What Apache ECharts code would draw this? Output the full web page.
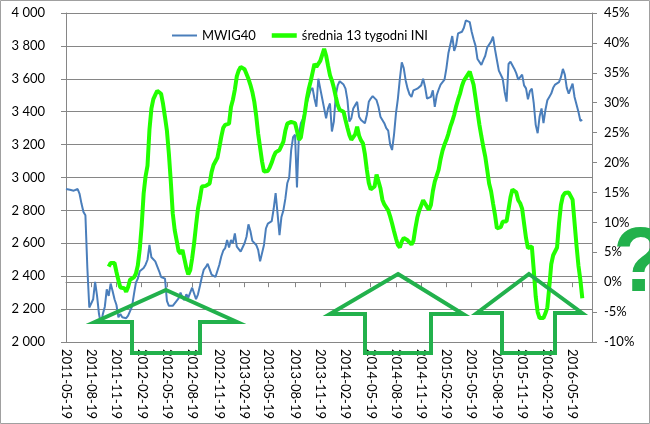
<!DOCTYPE html>
<html>
<head>
<meta charset="utf-8">
<script src="https://cdn.jsdelivr.net/npm/echarts@6/dist/echarts.min.js"></script>
<style>
  html, body { margin: 0; padding: 0; background: #fff; }
  #chart { width: 650px; height: 424px; }
</style>
</head>
<body>
<div id="chart"></div>
<script>
// weekly quotes, first week = startDate
const startDate = '2011-05-19'
const weekCount = 272

const tickLabels = [
  '2011-05-19', '2011-08-19', '2011-11-19', '2012-02-19', '2012-05-19',
  '2012-08-19', '2012-11-19', '2013-02-19', '2013-05-19', '2013-08-19',
  '2013-11-19', '2014-02-19', '2014-05-19', '2014-08-19', '2014-11-19',
  '2015-02-19', '2015-05-19', '2015-08-19', '2015-11-19', '2016-02-19',
  '2016-05-19',
]

const mwig40 = [
  2930, 2935, 2925, 2935, 2920, 2915, 2930, 2900, 2840, 2790,
  2770, 2450, 2210, 2215, 2260, 2365, 2280, 2170, 2110, 2170,
  2215, 2320, 2280, 2355, 2310, 2260, 2225, 2150, 2170, 2150,
  2160, 2145, 2160, 2150, 2215, 2290, 2360, 2385, 2430, 2440,
  2450, 2470, 2500, 2590, 2515, 2505, 2490, 2460, 2430, 2395,
  2390, 2385, 2250, 2220, 2215, 2220, 2230, 2250, 2265, 2300,
  2270, 2255, 2290, 2270, 2300, 2330, 2295, 2260, 2290, 2340,
  2395, 2440, 2455, 2475, 2485, 2410, 2400, 2395, 2390, 2470,
  2520, 2555, 2570, 2620, 2575, 2620, 2600, 2660, 2580, 2565,
  2550, 2540, 2600, 2640, 2715, 2675, 2615, 2620, 2590, 2560,
  2490, 2495, 2590, 2690, 2720, 2725, 2735, 2810, 2905, 2780,
  2650, 2760, 2800, 2870, 2965, 3000, 3165, 3245, 3260, 2940,
  3260, 3330, 3355, 3395, 3450, 3490, 3530, 3545, 3480, 3430,
  3600, 3540, 3480, 3420, 3360, 3420, 3450, 3280, 3340, 3500,
  3560, 3585, 3590, 3565, 3540, 3470, 3340, 3360, 3420, 3440,
  3460, 3370, 3350, 3360, 3330, 3380, 3460, 3480, 3495, 3490,
  3470, 3430, 3370, 3360, 3330, 3300, 3285, 3200, 3167, 3260,
  3390, 3480, 3600, 3700, 3665, 3590, 3540, 3505, 3490, 3530,
  3525, 3540, 3535, 3560, 3600, 3550, 3480, 3475, 3490, 3530,
  3430, 3500, 3535, 3565, 3575, 3595, 3665, 3755, 3760, 3860,
  3770, 3805, 3876, 3870, 3886, 3910, 3955, 3957, 3945, 3886,
  3840, 3800, 3720, 3720, 3685, 3714, 3740, 3790, 3800, 3826,
  3856, 3780, 3714, 3650, 3648, 3600, 3520, 3461, 3690, 3704,
  3694, 3660, 3633, 3595, 3610, 3625, 3560, 3542, 3475, 3525,
  3540, 3450, 3320, 3269, 3370, 3420, 3330, 3410, 3470, 3490,
  3510, 3545, 3565, 3575, 3580, 3610, 3660, 3625, 3545, 3510,
  3500, 3570, 3490, 3490, 3400, 3345, 3350,
]

// średnia 13 tygodni INI, in %
const ini13 = [
  null, null, null, null, null, null, null, null, null, null,
  null, null, null, null, null, null, null, null, null, null,
  null, null, 2.6, 3.2, 3.3, 3.2, 1.7, 0.3, -0.9, -1.1,
  -1.0, -1.6, -0.8, 0.4, 0.5, 0.8, 1.4, 2.8, 5.5, 9.5,
  14.8, 17.7, 19.5, 25.5, 29.0, 30.6, 31.3, 32.0, 32.3, 31.5,
  29.8, 27.6, 25.3, 21.5, 16.8, 11.5, 8.7, 7.0, 5.2, 4.8,
  5.4, 3.9, 2.4, 1.3, 2.0, 4.0, 6.5, 9.5, 12.3, 14.0,
  16.0, 16.2, 16.1, 16.0, 16.5, 18.4, 19.6, 19.7, 20.8, 22.5,
  24.3, 25.8, 26.3, 26.3, 26.5, 29.3, 30.5, 32.2, 34.4, 35.4,
  36.0, 36.3, 35.6, 34.8, 34.0, 33.0, 31.8, 30.2, 27.8, 24.8,
  22.5, 20.2, 18.5, 18.4, 18.6, 19.2, 20.0, 21.0, 21.7, 22.0,
  22.1, 22.0, 23.5, 25.3, 26.5, 26.8, 26.8, 27.0, 26.6, 25.3,
  23.8, 24.2, 26.3, 28.2, 30.5, 32.2, 33.5, 35.0, 36.5, 36.0,
  36.5, 37.0, 38.0, 39.0, 37.9, 36.2, 34.6, 33.7, 32.5, 31.0,
  29.6, 28.8, 29.0, 28.5, 27.1, 25.8, 24.6, 23.8, 23.6, 24.7,
  26.0, 24.5, 23.7, 23.2, 21.4, 18.8, 16.6, 15.5, 15.2, 16.0,
  18.0, 17.8, 15.7, 13.8, 13.0, 12.5, 12.0, 11.0, 9.8, 8.5,
  7.3, 6.2, 5.8, 6.8, 7.4, 7.2, 7.0, 6.9, 6.3, 6.9,
  9.0, 10.8, 12.0, 12.8, 13.7, 13.4, 12.6, 12.1, 12.9, 15.2,
  16.8, 17.8, 18.8, 20.6, 22.0, 23.0, 23.8, 24.8, 26.0, 26.9,
  28.0, 29.4, 30.5, 31.5, 32.8, 33.7, 34.2, 34.7, 35.2, 35.0,
  33.0, 30.8, 28.5, 26.3, 24.4, 22.6, 21.0, 18.8, 16.5, 15.2,
  13.2, 11.3, 9.0, 8.7, 9.2, 10.1, 10.4, 10.2, 12.2, 14.2,
  15.5, 15.7, 15.0, 13.7, 13.2, 12.3, 9.8, 7.4, 5.7, 5.8,
  6.0, 2.0, -2.4, -5.0, -6.0, -6.3, -6.0, -5.2, -4.2, -0.8,
  3.0, 4.5, 4.5, 5.8, 9.8, 12.9, 14.4, 14.9, 14.9, 15.0,
  14.8, 13.8, 10.0, 6.2, 2.8, 0.4, -2.7,
]

const DAY = 86400000
const t0 = Date.parse(startDate)
const weeks = []
for (let i = 0; i < weekCount; i++) {
  weeks.push(new Date(t0 + i * 7 * DAY).toISOString().slice(0, 10))
}
// which weekly category sits at each quarterly label
const labelAt = {}
tickLabels.forEach((d) => {
  labelAt[Math.round((Date.parse(d) - t0) / (7 * DAY))] = d
})
const isTick = (i) => labelAt[i] !== undefined

const font = 'Lato, "Liberation Sans", sans-serif'
const gray = '#868686'
const arrowColor = '#22b14c'

const arrow = (tipX, tipY, barbL, barbR, barbY, shaftL, shaftR, bottom) => ({
  type: 'polygon',
  z: 100,
  shape: {
    points: [
      [tipX, tipY], [barbR, barbY], [shaftR, barbY], [shaftR, bottom],
      [shaftL, bottom], [shaftL, barbY], [barbL, barbY],
    ],
  },
  style: { fill: null, stroke: arrowColor, lineWidth: 4, lineJoin: 'miter' },
})

const myChart = echarts.init(document.getElementById('chart'))
const option = {
  animation: false,
  grid: { left: 66, right: 58, top: 13, bottom: 82 },
  legend: {
    left: 167,
    top: 24,
    itemWidth: 25,
    itemHeight: 10,
    itemGap: 16,
    symbolKeepAspect: true,
    textStyle: { fontFamily: font, fontSize: 13, color: '#000' },
    data: [
      { name: 'MWIG40', icon: 'path://M0,0H25V2H0Z' },
      { name: 'średnia 13 tygodni INI', icon: 'path://M0,0H22V4H0Z' },
    ],
  },
  xAxis: {
    type: 'category',
    boundaryGap: false,
    data: weeks,
    axisLine: { lineStyle: { color: gray } },
    axisTick: { interval: isTick, length: 5, lineStyle: { color: gray } },
    axisLabel: {
      interval: isTick,
      rotate: -90,
      margin: 7,
      fontFamily: font,
      fontSize: 13,
      color: '#000',
      formatter: (v, i) => labelAt[i] || '',
    },
    splitLine: { show: false },
  },
  yAxis: [
    {
      type: 'value',
      min: 2000,
      max: 4000,
      interval: 200,
      axisLine: { show: true, lineStyle: { color: gray } },
      axisTick: { show: true, length: 5, lineStyle: { color: gray } },
      axisLabel: {
        margin: 21,
        fontFamily: font,
        fontSize: 13,
        color: '#000',
        formatter: (v) => String(v).replace(/(\d)(\d{3})$/, '$1 $2'),
      },
      splitLine: { lineStyle: { color: gray } },
    },
    {
      type: 'value',
      min: -10,
      max: 45,
      interval: 5,
      axisLine: { show: true, lineStyle: { color: gray } },
      axisTick: { show: true, length: 5, lineStyle: { color: gray } },
      axisLabel: {
        margin: 12,
        fontFamily: font,
        fontSize: 13,
        color: '#000',
        formatter: '{value}%',
      },
      splitLine: { show: false },
    },
  ],
  series: [
    {
      name: 'MWIG40',
      type: 'line',
      data: mwig40,
      symbol: 'none',
      lineStyle: { color: '#4a7ebb', width: 2 },
      itemStyle: { color: '#4a7ebb' },
    },
    {
      name: 'średnia 13 tygodni INI',
      type: 'line',
      yAxisIndex: 1,
      data: ini13,
      symbol: 'none',
      lineStyle: { color: '#22ff00', width: 4 },
      itemStyle: { color: '#22ff00' },
    },
  ],
  graphic: [
    {
      type: 'rect',
      silent: true,
      shape: { x: 0.5, y: 0.5, width: 649, height: 423 },
      style: { fill: null, stroke: '#a0a0a0', lineWidth: 1 },
    },
    arrow(166, 290, 95, 237, 322, 132, 200, 353),
    arrow(398, 274, 330, 463, 314, 365, 431, 353),
    arrow(529, 274, 477, 582, 313, 502, 555, 353),
    {
      type: 'text',
      z: 100,
      left: 613,
      top: 221,
      style: {
        text: '?',
        fill: arrowColor,
        font: 'bold 90px "Liberation Sans", sans-serif',
      },
    },
  ],
}
myChart.setOption(option)
</script>
</body>
</html>
